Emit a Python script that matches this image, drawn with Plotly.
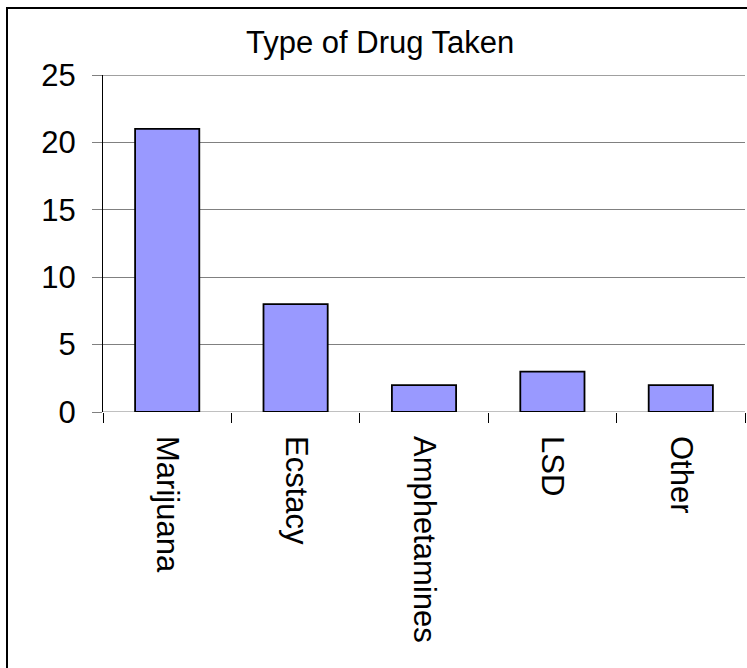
import plotly.graph_objects as go

categories = ["Marijuana", "Ecstacy", "Amphetamines", "LSD", "Other"]
values = [21, 8, 2, 3, 2]
y_ticks = [0, 5, 10, 15, 20, 25]
title_text = "Type of Drug Taken"

W, H = 747, 668
L, R, T, B = 103, 2, 75, 256
pw, ph = W - L - R, H - T - B

def px_x(x):
    return (x - L) / pw

def px_y(y):
    return 1 - (y - T) / ph

FONT = "Liberation Sans, Arial, sans-serif"
FS = 31

fig = go.Figure(go.Bar(
    x=categories, y=values, width=0.5,
    marker=dict(color="#9999FF", line=dict(color="black", width=1.8)),
))

edge_lines = [
    dict(type="line", xref="paper", yref="y", x0=0, x1=1, y0=y_ticks[0], y1=y_ticks[0],
         line=dict(color="#808080", width=1), layer="below"),
    dict(type="line", xref="paper", yref="y", x0=0, x1=1, y0=y_ticks[-1], y1=y_ticks[-1],
         line=dict(color="#808080", width=1.5), layer="above"),
]

fig.update_layout(
    width=W, height=H,
    margin=dict(l=L, r=R, t=T, b=B, pad=0),
    paper_bgcolor="white", plot_bgcolor="white",
    showlegend=False,
    font=dict(family=FONT, size=FS, color="black"),
    annotations=[dict(
        text=title_text, x=px_x(380), y=px_y(42), xref="paper", yref="paper",
        xanchor="center", yanchor="middle", showarrow=False,
        font=dict(family=FONT, size=FS, color="black"),
    )],
    shapes=edge_lines + [dict(
        type="rect", xref="paper", yref="paper",
        x0=px_x(7), x1=px_x(800), y0=px_y(8), y1=px_y(720),
        line=dict(color="black", width=2), fillcolor="rgba(0,0,0,0)", layer="above",
    )],
)

fig.update_xaxes(
    type="category", tickangle=90, tickson="boundaries",
    ticks="outside", ticklen=10, tickcolor="black", tickwidth=1,
    showline=False, showgrid=False, ticklabelstandoff=23,
    tickfont=dict(family=FONT, size=FS, color="black"),
)
fig.update_yaxes(
    range=[0, 25], tickvals=y_ticks, showgrid=True, gridcolor="#808080", gridwidth=1,
    ticks="outside", ticklen=10, tickcolor="#808080", tickwidth=1,
    showline=True, linecolor="black", linewidth=1, zeroline=False,
    ticklabelstandoff=10,
    tickfont=dict(family=FONT, size=FS, color="black"),
)

fig.write_html("out.html")
